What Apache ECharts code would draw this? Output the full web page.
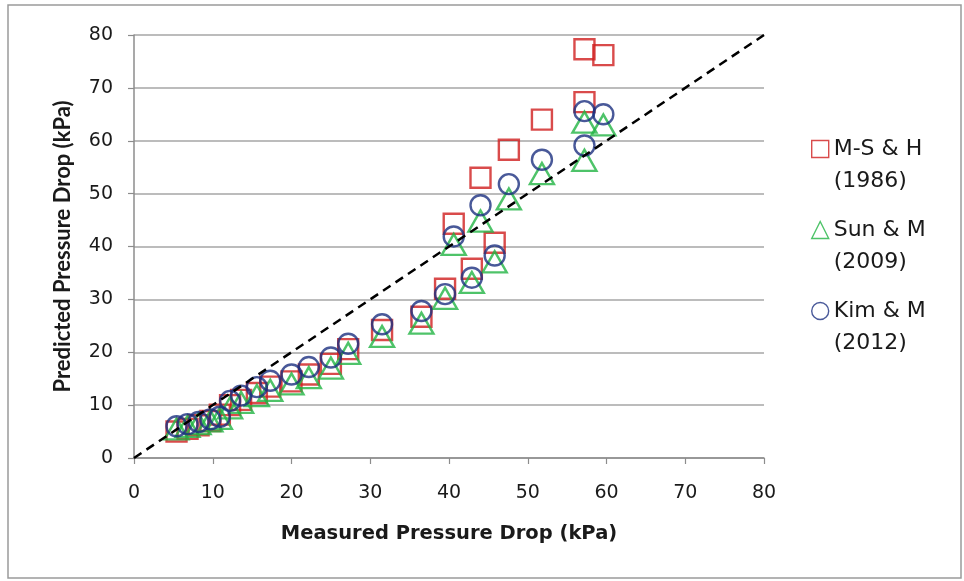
<!DOCTYPE html>
<html>
<head>
<meta charset="utf-8">
<script src="https://cdn.jsdelivr.net/npm/echarts@6/dist/echarts.min.js"></script>
<style>html,body{margin:0;padding:0;background:#fff}#c{width:964px;height:581px}</style>
</head>
<body>
<div id="c"></div>
<script>
// Measured pressure drop (kPa), shared by the three correlations
const measured = [5.4, 6.8, 8.2, 9.7, 10.9, 12.2, 13.6, 15.6, 17.3, 20.0, 22.2, 25.0, 27.2, 31.5, 36.5, 39.5, 40.6, 42.9, 44.0, 45.8, 47.6, 51.8, 57.2, 57.2, 59.6];
// Predicted pressure drop (kPa)
const msh1986 = [5.0, 5.5, 6.2, 7.0, 8.2, 10.0, 11.0, 12.3, 13.5, 14.5, 15.8, 17.8, 20.6, 24.2, 26.7, 32.0, 44.3, 35.8, 53.0, 40.7, 58.3, 64.0, 77.3, 67.3, 76.2];
const sunm2009 = [5.5, 6.0, 6.5, 7.0, 7.5, 9.5, 10.5, 11.8, 12.8, 14.0, 15.2, 17.0, 19.8, 23.0, 25.5, 30.2, 40.4, 33.2, 44.8, 37.1, 49.0, 53.8, 63.5, 56.3, 63.0];
const kimm2012 = [6.0, 6.4, 6.8, 7.3, 7.8, 10.8, 11.8, 13.4, 14.6, 15.8, 17.2, 19.0, 21.6, 25.3, 27.8, 31.0, 41.9, 34.1, 47.8, 38.3, 51.8, 56.4, 65.6, 59.1, 65.0];
const seriesNames = ['M-S & H\n(1986)', 'Sun & M\n(2009)', 'Kim & M\n(2012)'];
const parityLine = [[0, 0], [80, 80]];
const axisTicks = [0, 10, 20, 30, 40, 50, 60, 70, 80];

const pair = (ys) => measured.map((x, i) => [x, ys[i]]);
const WIDE = '"DejaVu Sans", sans-serif';
const NARROW = 'Lato, "Open Sans", sans-serif';
const colors = ['#D01E1E', '#22B444', '#1C2F80'];
const symbols = ['rect', 'triangle', 'circle'];
const values = [msh1986, sunm2009, kimm2012];

const chart = echarts.init(document.getElementById('c'), null, {renderer: 'canvas'});
const axisCommon = {
  min: axisTicks[0], max: axisTicks[axisTicks.length - 1], interval: 10,
  axisLine: {show: true, lineStyle: {color: '#8c8c8c', width: 1.5}},
  axisTick: {show: true, inside: false, length: 6, lineStyle: {color: '#8c8c8c', width: 1.2}},
  axisLabel: {color: '#1a1a1a', fontSize: 19, fontFamily: WIDE},
  nameLocation: 'middle'
};
const scatter = values.map((v, k) => ({
  name: seriesNames[k], type: 'scatter', data: pair(v),
  symbol: symbols[k], symbolSize: k === 1 ? [24, 21] : 20,
  itemStyle: {color: 'rgba(0,0,0,0)', borderColor: colors[k], borderWidth: 2.4},
  emphasis: {disabled: true}, z: 2 + k
}));
chart.setOption({
  animation: false,
  backgroundColor: '#fff',
  graphic: [{type: 'rect', shape: {x: 8, y: 5, width: 953, height: 573},
    style: {fill: 'none', stroke: '#9a9a9a', lineWidth: 1.5}, silent: true, z: -10}],
  grid: {left: 134, right: 200, top: 35, bottom: 123},
  xAxis: Object.assign({}, axisCommon, {
    type: 'value', name: 'Measured Pressure Drop (kPa)', nameGap: 66,
    axisLabel: Object.assign({}, axisCommon.axisLabel, {margin: 26}),
    nameTextStyle: {color: '#1a1a1a', fontSize: 19.5, fontWeight: 'bold', fontFamily: WIDE},
    splitLine: {show: false}
  }),
  yAxis: Object.assign({}, axisCommon, {
    type: 'value', name: 'Predicted Pressure Drop (kPa)', nameGap: 60,
    axisLabel: Object.assign({}, axisCommon.axisLabel, {margin: 21}),
    nameTextStyle: {color: '#1a1a1a', fontSize: 22, fontWeight: 'bold', fontFamily: NARROW},
    splitLine: {show: true, lineStyle: {color: '#a6a6a6', width: 1.5}}
  }),
  legend: {
    orient: 'vertical', left: 806, top: 96, itemWidth: 17, itemHeight: 17, itemGap: -15,
    data: seriesNames.map((n, k) => ({name: n, icon: symbols[k],
      itemStyle: {color: 'rgba(0,0,0,0)', borderColor: colors[k], borderWidth: 1.4}})),
    formatter: (name) => '\n' + name,
    textStyle: {color: '#1a1a1a', fontSize: 22, fontFamily: WIDE, lineHeight: 32},
    itemStyle: {color: 'rgba(0,0,0,0)'}
  },
  series: scatter.concat([{
    type: 'line', data: parityLine, symbol: 'none', silent: true, z: 10,
    lineStyle: {color: '#000', width: 2.5, type: [9, 6]}
  }])
});
</script>
</body>
</html>
